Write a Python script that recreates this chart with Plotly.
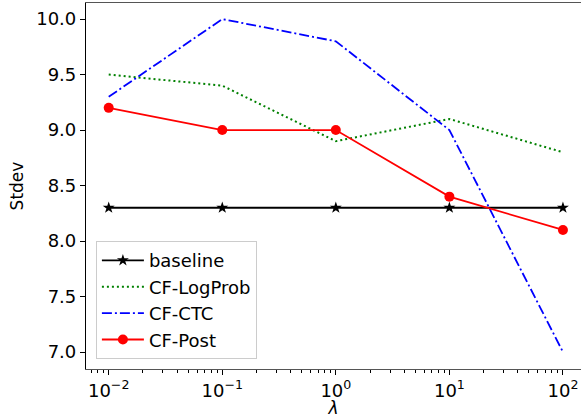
import numpy as np
import plotly.graph_objects as go

# Regularisation weight lambda and the resulting standard deviation per method
lambdas = [0.01, 0.1, 1, 10, 100]
baseline = [8.3, 8.3, 8.3, 8.3, 8.3]
cf_logprob = [9.5, 9.4, 8.9, 9.1, 8.8]
cf_ctc = [9.3, 10.0, 9.8, 9.0, 7.0]
cf_post = [9.2, 9.0, 9.0, 8.4, 8.1]

x_tickvals = [0.01, 0.1, 1, 10, 100]
x_ticktext = ["10<sup>−2</sup>", "10<sup>−1</sup>", "10<sup>0</sup>", "10<sup>1</sup>", "10<sup>2</sup>"]
y_tickvals = [7.0, 7.5, 8.0, 8.5, 9.0, 9.5, 10.0]

# minor ticks at 2..9 within each decade
minor_vals = [m * 10.0 ** e for e in range(-3, 3) for m in range(2, 10)]

FONT = "DejaVu Sans"

fig = go.Figure()
fig.add_trace(go.Scatter(
    x=lambdas, y=baseline, name="baseline", mode="lines+markers",
    line=dict(color="black", width=1.8),
    marker=dict(symbol="star", size=9, color="black"),
))
fig.add_trace(go.Scatter(
    x=lambdas, y=cf_logprob, name="CF-LogProb", mode="lines",
    line=dict(color="#008000", width=2, dash="2px,3px"),
))
fig.add_trace(go.Scatter(
    x=lambdas, y=cf_ctc, name="CF-CTC", mode="lines",
    line=dict(color="#0000ff", width=1.8, dash="10px,3px,2px,3px"),
))
fig.add_trace(go.Scatter(
    x=lambdas, y=cf_post, name="CF-Post", mode="lines+markers",
    line=dict(color="#ff0000", width=1.8),
    marker=dict(symbol="circle", size=10, color="#ff0000"),
))

fig.update_layout(
    width=581, height=418,
    margin=dict(l=86, r=0, t=3, b=49),
    paper_bgcolor="white", plot_bgcolor="white",
    font=dict(family=FONT, size=17, color="black"),
    showlegend=True,
    legend=dict(
        x=0.02, y=0.027, xanchor="left", yanchor="bottom",
        bgcolor="rgba(255,255,255,0.8)", bordercolor="#cccccc", borderwidth=1,
        font=dict(family=FONT, size=18),
        itemwidth=42, tracegroupgap=0,
    ),
)

fig.update_xaxes(
    type="log", range=[-2.2, 2.159],
    tickvals=x_tickvals, ticktext=x_ticktext,
    ticks="outside", ticklen=5, tickwidth=1, tickcolor="black",
    tickfont=dict(family=FONT, size=18),
    minor=dict(tickvals=minor_vals, ticks="outside", ticklen=3, tickcolor="black", tickwidth=0.8),
    showline=True, linecolor="#555555", linewidth=1.2, mirror=True,
    showgrid=False, zeroline=False,
    title=dict(text="<i>λ</i>", font=dict(family=FONT, size=17), standoff=4),
)
fig.update_yaxes(
    range=[6.847, 10.145],
    tickvals=y_tickvals, tickformat=".1f",
    ticks="outside", ticklen=5, tickwidth=1, tickcolor="black",
    tickfont=dict(family=FONT, size=18),
    showline=True, linecolor="black", linewidth=1.2,
    showgrid=False, zeroline=False,
    title=dict(text="Stdev", font=dict(family=FONT, size=17), standoff=8),
)

fig.write_html("out.html")
